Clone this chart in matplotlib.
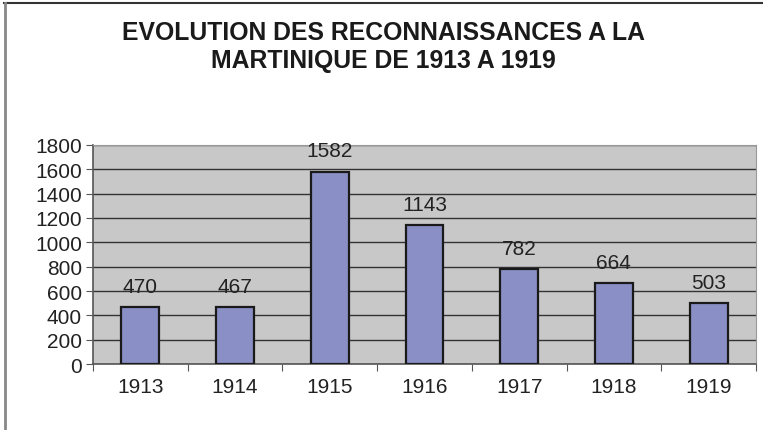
import matplotlib
matplotlib.use("Agg")
import matplotlib.pyplot as plt
from matplotlib.lines import Line2D

plt.rcParams["font.family"] = ["Liberation Sans", "DejaVu Sans"]

years = ["1913", "1914", "1915", "1916", "1917", "1918", "1919"]
counts = [470, 467, 1582, 1143, 782, 664, 503]
yticks = [0, 200, 400, 600, 800, 1000, 1200, 1400, 1600, 1800]

fig = plt.figure(figsize=(7.63, 4.31), dpi=100)
ax = fig.add_axes([0.1219, 0.1531, 0.8689, 0.5082])

ax.set_facecolor("#c8c8c8")
x = range(len(years))
ax.bar(x, counts, width=0.40, color="#8a8fc6", edgecolor="#1a1a1a", linewidth=1.6, zorder=3)
for i, v in enumerate(counts):
    ax.annotate(str(v), (i, v), xytext=(0, 8), textcoords="offset points",
                ha="center", va="bottom", fontsize=15, color="#222222")

ax.set_xlim(-0.5, len(years) - 0.5)
ax.set_ylim(0, 1800)
ax.set_yticks(yticks)
ax.set_yticklabels([str(t) for t in yticks], fontsize=15, color="#222222")
ax.yaxis.grid(True, color="#333333", linewidth=1.0, zorder=0)
ax.set_axisbelow(True)

# ticks at category boundaries, labels centred
ax.set_xticks([i + 0.5 for i in range(len(years) - 1)] + [-0.5, len(years) - 0.5])
ax.set_xticklabels([""] * (len(years) + 1))
ax.tick_params(axis="x", length=5, color="#555555", direction="out")
ax.tick_params(axis="y", length=5, color="#555555", pad=3)
for i, y in enumerate(years):
    ax.text(i, -110, y, ha="center", va="top", fontsize=15, color="#222222")

for side in ["top", "right"]:
    ax.spines[side].set_color("#999999")
for side in ["left", "bottom"]:
    ax.spines[side].set_color("#555555")
    ax.spines[side].set_linewidth(1.2)

fig.text(0.502, 0.891, "EVOLUTION DES RECONNAISSANCES A LA\nMARTINIQUE DE 1913 A 1919",
         ha="center", va="center", fontsize=17.8, fontweight="bold", color="#1a1a1a",
         linespacing=1.2)

# outer frame (top and left only)
fig.add_artist(Line2D([0.005, 1.0], [0.991, 0.991], color="#333333", linewidth=1.5,
                      transform=fig.transFigure))
fig.add_artist(Line2D([0.0065, 0.0065], [0.0, 0.991], color="#888888", linewidth=2,
                      transform=fig.transFigure))

fig.savefig("out.png", dpi=100)
